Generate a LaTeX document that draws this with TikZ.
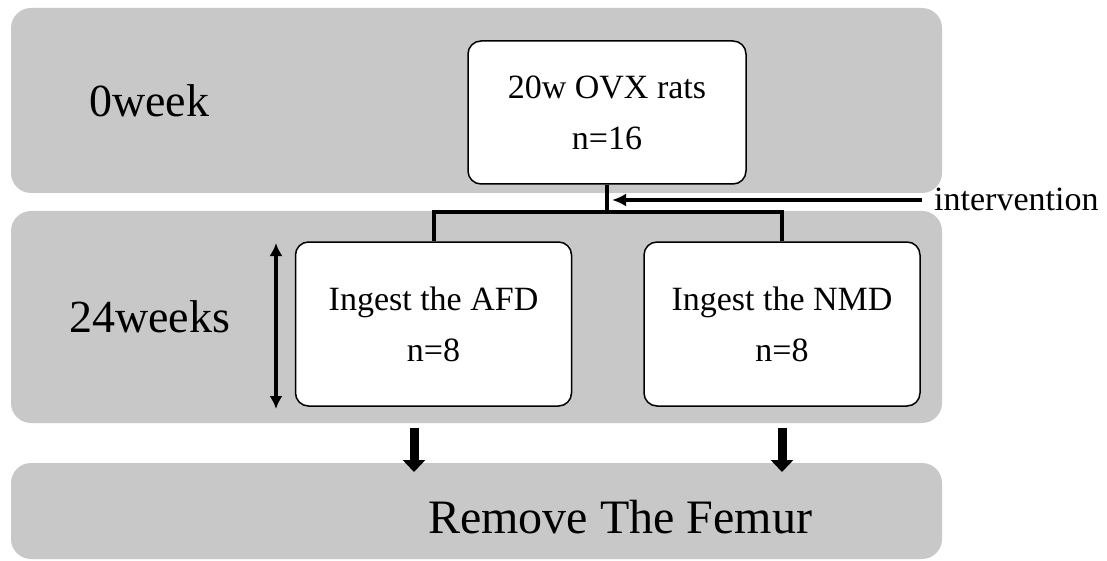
\documentclass[tikz,border=0pt]{standalone}
\usepackage{fontspec}
\setmainfont{Liberation Serif}
\usetikzlibrary{arrows.meta}
\definecolor{bandgray}{RGB}{200,200,200}
\begin{document}
\begin{tikzpicture}[x=1pt,y=-1pt,
  band/.style={fill=bandgray,draw=none,rounded corners=20pt,minimum width=931pt,inner sep=0pt,outer sep=0pt},
  whitebox/.style={draw=black,fill=white,line width=1.5pt,rounded corners=13pt,align=center,inner sep=0pt,font=\fontsize{34}{51}\selectfont},
  conn/.style={line width=4pt},
  bigarrow/.style={line width=9pt,-{Triangle[length=12pt,width=22pt]}},
  lbl/.style={anchor=base west,inner sep=0pt}]
\useasboundingbox (0,0) rectangle (1107,561);
% bands
\node[band,minimum height=185pt] (band1) at (476.5,100.5) {};
\node[band,minimum height=212pt] (band2) at (476.5,317) {};
\node[band,minimum height=96pt] (band3) at (476.5,511) {};
% labels
\node[lbl,font=\fontsize{46}{50}\selectfont] (l0) at (89,117) {0week};
\node[lbl,font=\fontsize{46}{50}\selectfont] (l24) at (69,332) {24weeks};
\node[lbl,font=\fontsize{48}{50}\selectfont] (rem) at (428,533) {Remove The Femur};
\node[lbl,font=\fontsize{34}{40}\selectfont] (intvtext) at (934,211) {intervention};
% boxes
\node[whitebox,minimum width=278pt,minimum height=143pt] (top) at (607,112.5) {20w OVX rats\\n=16};
\node[whitebox,minimum width=276pt,minimum height=164pt] (afd) at (433.5,324) {Ingest the AFD\\n=8};
\node[whitebox,minimum width=276pt,minimum height=164pt] (nmd) at (782,324) {Ingest the NMD\\n=8};
% connectors
\coordinate (split) at (607,212);
\draw[conn] (top.south) -- (split);
\draw[conn] (afd.north) -- (afd.north |- split) -- (nmd.north |- split) -- (nmd.north);
\coordinate (intvtail) at (922,200);
\coordinate (intvtip) at (612,200);
\draw[conn,-{Latex[length=14pt,width=13pt]}] (intvtail) -- (intvtip);
% duration double arrow
\coordinate (dtop) at (276,243);
\coordinate (dbot) at (276,409);
\draw[line width=3.5pt,{Latex[length=13pt,width=13pt]}-{Latex[length=13pt,width=13pt]}] (dtop) -- (dbot);
% arrows to band 3
\coordinate (a1s) at (414,428);
\coordinate (a1e) at (414,472);
\coordinate (a2s) at (782,428);
\coordinate (a2e) at (782,472);
\draw[bigarrow] (a1s) -- (a1e);
\draw[bigarrow] (a2s) -- (a2e);
\end{tikzpicture}
\end{document}
